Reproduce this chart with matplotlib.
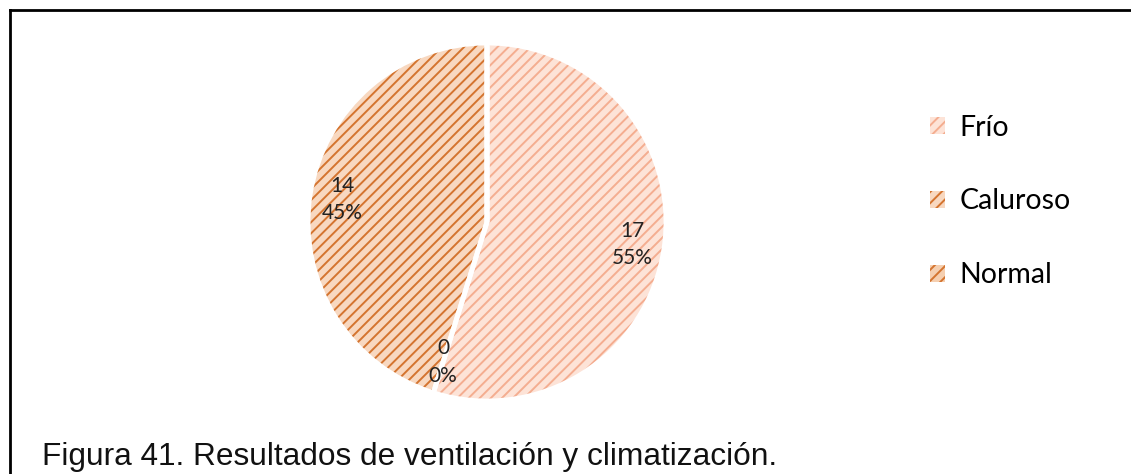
import matplotlib
matplotlib.use("Agg")
import numpy as np
import matplotlib.pyplot as plt
from matplotlib.lines import Line2D
from matplotlib.patches import Patch

# data
categories = ["Frío", "Caluroso", "Normal"]
values = [17, 14, 0]
face_colors = ["#FDE3D7", "#F8D8C0", "#F5CFB0"]
hatch_colors = ["#F4AD90", "#D4742F", "#D4742F"]
title = "Figura 41. Resultados de ventilación y climatización."

plt.rcParams["hatch.linewidth"] = 1.4

fig = plt.figure(figsize=(11.31, 4.74), dpi=100)
W, H = 1131, 474

# pie area: center (487, 222), radius ~179 px
R = 179
ax = fig.add_axes([(487 - R) / W, 1 - (222 + R) / H, 2 * R / W, 2 * R / H])
total = sum(values)


def fmt(pct):
    n = int(round(pct * total / 100.0))
    return f"{n}\n{pct:.0f}%"


wedges, texts, autotexts = ax.pie(
    values, startangle=90, counterclock=False, radius=1.0,
    autopct=fmt, pctdistance=0.82,
    wedgeprops=dict(linewidth=0),
    textprops=dict(fontsize=15, family="Lato", color="#222222", linespacing=1.45),
)
for w, fc, hc in zip(wedges, face_colors, hatch_colors):
    w.set_facecolor(fc)
    w.set_edgecolor(hc)
    w.set_hatch("///")

# the empty slice's label sits at the end of the first slice (bottom gap)
ang = np.deg2rad(90 - 360.0 * values[0] / total)
autotexts[2].set_position((0.82 * np.cos(ang), 0.82 * np.sin(ang)))

# white separators between slices
ax.pie(values, startangle=90, counterclock=False, radius=1.0,
       colors=["none"] * len(values),
       wedgeprops=dict(linewidth=3.5, edgecolor="white"))
ax.set_xlim(-1, 1)
ax.set_ylim(-1, 1)
ax.set_aspect("equal")

# legend
handles = [Patch(facecolor=fc, edgecolor=hc, hatch="///", linewidth=0)
           for fc, hc in zip(face_colors, hatch_colors)]
fig.legend(handles, categories, loc="upper left",
           bbox_to_anchor=(904 / W, 1 - 89 / H), frameon=False,
           prop=dict(family="Lato", size=20.5), handlelength=0.55, handleheight=0.55,
           handletextpad=0.5, labelspacing=1.68)

# frame lines (left and top)
fig.add_artist(Line2D([10 / W, 10 / W], [0, 1 - 10 / H], color="black", lw=2))
fig.add_artist(Line2D([10 / W, 1], [1 - 10 / H, 1 - 10 / H], color="black", lw=2))

fig.text(42 / W, 9 / H, title, family="Liberation Sans", fontsize=22.8,
         ha="left", va="baseline", color="#111111")

fig.savefig("out.png", dpi=100)
